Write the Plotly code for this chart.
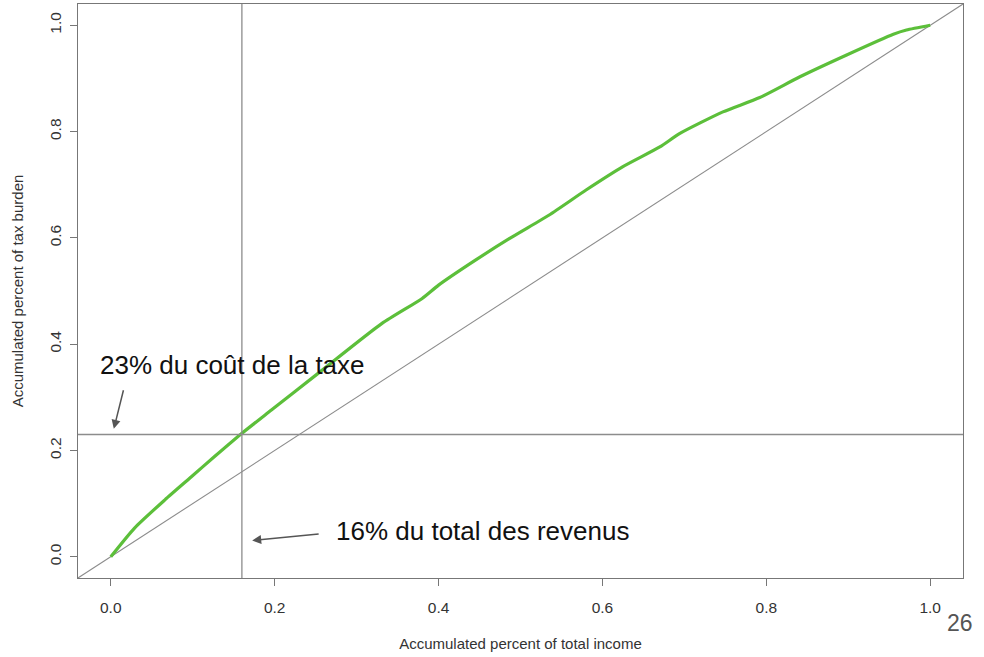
import plotly.graph_objects as go

# Cumulative share of total income vs cumulative share of the tax burden
income_share = [0, 0.029, 0.066, 0.098, 0.127, 0.159, 0.196, 0.253, 0.331, 0.380,
                0.400, 0.445, 0.490, 0.535, 0.580, 0.625, 0.670, 0.694, 0.747,
                0.792, 0.841, 0.898, 0.955, 0.971, 1.0]
tax_share = [0, 0.054, 0.107, 0.150, 0.189, 0.231, 0.276, 0.345, 0.439, 0.486,
             0.511, 0.558, 0.602, 0.643, 0.690, 0.734, 0.771, 0.796, 0.837,
             0.864, 0.903, 0.944, 0.983, 0.991, 1.0]

ref_income = 0.16
ref_tax = 0.23

x_range = [-0.04, 1.04]
y_range = [-0.04, 1.04]
tick_vals = [0.0, 0.2, 0.4, 0.6, 0.8, 1.0]
tick_text = ["0.0", "0.2", "0.4", "0.6", "0.8", "1.0"]

FONT = "Liberation Sans, Arial, Helvetica, sans-serif"
GRID_GRAY = "#8c8c8c"
AXIS_GRAY = "#777777"
TEXT = "#333333"

fig = go.Figure()

# equality diagonal across the whole plotting region
fig.add_trace(go.Scatter(
    x=x_range, y=y_range, mode="lines",
    line=dict(color=GRID_GRAY, width=1.1), hoverinfo="skip", showlegend=False))

fig.add_trace(go.Scatter(
    x=income_share, y=tax_share, mode="lines",
    line=dict(color="#5cbf3a", width=3.2, shape="spline", smoothing=0.6),
    showlegend=False))

# reference lines at 16% of income / 23% of tax
fig.add_shape(type="line", xref="x", yref="paper", x0=ref_income, x1=ref_income,
              y0=0, y1=1, line=dict(color=GRID_GRAY, width=1.3))
fig.add_shape(type="line", xref="paper", yref="y", x0=0, x1=1,
              y0=ref_tax, y1=ref_tax, line=dict(color=GRID_GRAY, width=1.3))

axis_common = dict(
    showgrid=False, zeroline=False, showline=True, mirror=True,
    linecolor=AXIS_GRAY, linewidth=1.2,
    ticks="outside", ticklen=7, tickcolor=AXIS_GRAY, tickwidth=1,
    tickvals=tick_vals, ticktext=tick_text,
    tickfont=dict(family=FONT, size=15.5, color=TEXT),
)

fig.update_xaxes(range=x_range, ticklabelstandoff=8,
                 title=dict(text="Accumulated percent of total income",
                            font=dict(family=FONT, size=15, color=TEXT), standoff=23),
                 **axis_common)
fig.update_yaxes(range=y_range, tickangle=-90, ticklabelstandoff=3,
                 title=dict(text="Accumulated percent of tax burden",
                            font=dict(family=FONT, size=15, color=TEXT), standoff=19),
                 **axis_common)

big = dict(family=FONT, size=26, color="#111111")

fig.add_annotation(x=0.0037, y=0.2406, ax=0.0159, ay=0.316, xref="x", yref="y",
                   axref="x", ayref="y", text="", showarrow=True,
                   arrowhead=2, arrowsize=1.2, arrowwidth=1.5, arrowcolor="#555555")
fig.add_annotation(x=0.1726, y=0.0306, ax=0.2555, ay=0.0432, xref="x", yref="y",
                   axref="x", ayref="y", text="", showarrow=True,
                   arrowhead=2, arrowsize=1.2, arrowwidth=1.5, arrowcolor="#555555")

fig.add_annotation(x=-0.016, y=0.360, xref="x", yref="y", xanchor="left", yanchor="middle",
                   text="23% du coût de la taxe", showarrow=False, font=big)
fig.add_annotation(x=0.2725, y=0.049, xref="x", yref="y", xanchor="left", yanchor="middle",
                   text="16% du total des revenus", showarrow=False, font=big)

fig.add_annotation(x=1.014, y=-0.078, xref="paper", yref="paper",
                   xanchor="right", yanchor="middle", text="26", showarrow=False,
                   font=dict(family=FONT, size=23, color="#555555"))

fig.update_layout(
    width=984, height=657,
    margin=dict(l=78, r=21, t=4, b=79, autoexpand=False),
    paper_bgcolor="white", plot_bgcolor="white",
    font=dict(family=FONT),
)

fig.write_html("out.html")
